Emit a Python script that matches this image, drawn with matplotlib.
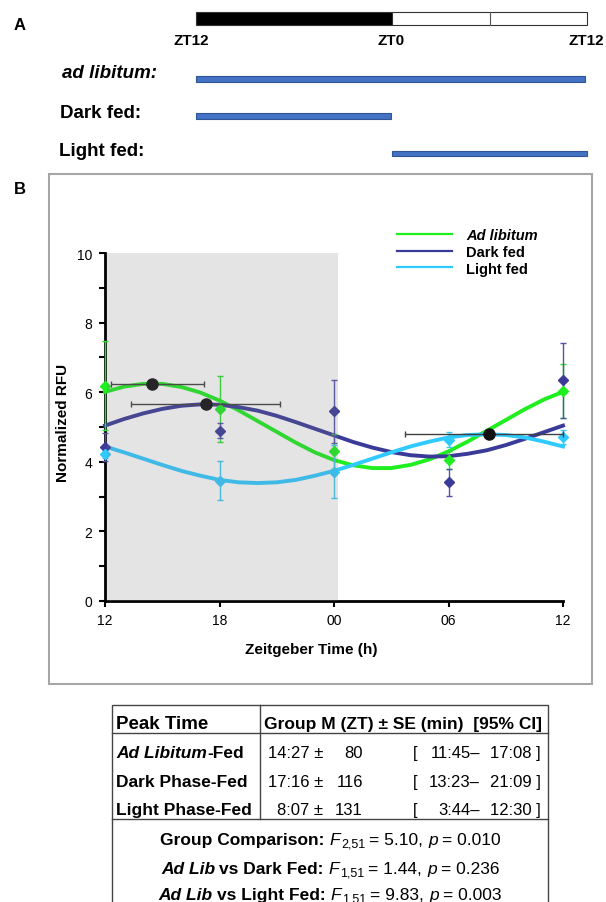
import matplotlib
matplotlib.use('Agg')
import matplotlib.pyplot as plt
from matplotlib.patches import Rectangle
from matplotlib.lines import Line2D

plt.rcParams['font.family'] = ['Liberation Sans', 'DejaVu Sans']

W, H = 606, 903

# ---------------- data ----------------
# sample times, in hours after ZT12
zt_hours = [0, 6, 12, 18, 24]
zt_labels = ['12', '18', '00', '06', '12']

adlib_mean = [6.19, 5.52, 4.30, 4.05, 6.03]
adlib_se = [1.28, 0.95, 0.50, 0.25, 0.78]
dark_mean = [4.43, 4.89, 5.45, 3.41, 6.34]
dark_se = [0.40, 0.22, 0.90, 0.38, 1.08]
light_mean = [4.22, 3.46, 3.72, 4.64, 4.70]
light_se = [0.12, 0.57, 0.75, 0.21, 0.20]

# fitted curves every hour
fit_hours = list(range(25))
adlib_fit = [6.01, 6.16, 6.24, 6.24, 6.15, 5.99, 5.76, 5.48, 5.17, 4.86, 4.55, 4.27, 4.05,
             3.90, 3.82, 3.82, 3.91, 4.07, 4.30, 4.58, 4.89, 5.20, 5.51, 5.79, 6.01]
dark_fit = [5.04, 5.23, 5.39, 5.52, 5.61, 5.65, 5.64, 5.57, 5.47, 5.32, 5.14, 4.95, 4.76,
            4.57, 4.41, 4.28, 4.19, 4.15, 4.16, 4.23, 4.33, 4.48, 4.66, 4.85, 5.04]
light_fit = [4.44, 4.27, 4.09, 3.91, 3.74, 3.60, 3.48, 3.41, 3.39, 3.41, 3.48, 3.60, 3.74,
             3.91, 4.09, 4.27, 4.44, 4.58, 4.70, 4.77, 4.79, 4.77, 4.70, 4.58, 4.44]

# peak times (hours after ZT12) with 95% CI
peak_hours = [2.45, 5.27, 20.12]
peak_values = [6.25, 5.65, 4.79]
peak_ci_low = [0.30, 1.38, 15.73]
peak_ci_high = [5.20, 9.15, 24.0]

group_names = ['Ad libitum', 'Dark fed', 'Light fed']
group_colors = ['#1fee1f', '#3a3a98', '#2fcaff']
error_colors = ['#2be02b', '#5252aa', '#3cc8f5']

# feeding schedule (hours after ZT12)
feed_labels = ['ad libitum:', 'Dark fed:', 'Light fed:']
feed_start = [0, 0, 12]
feed_end = [23.9, 11.95, 24]

table_groups = ['Peak Time', 'Dark Phase-Fed', 'Light Phase-Fed']
table_mean = ['14:27 \u00b1', '17:16 \u00b1', '8:07 \u00b1']
table_se = ['80', '116', '131']
table_lo = ['11:45\u2013', '13:23\u2013', '3:44\u2013']
table_hi = ['17:08 ]', '21:09 ]', '12:30 ]']

fig = plt.figure(figsize=(W / 100, H / 100), dpi=100)
renderer = fig.canvas.get_renderer()


def fx(x):
    return x / W


def fy(y):
    return 1 - y / H


def box(x0, y0, x1, y1, **kw):
    fig.add_artist(Rectangle((fx(x0), fy(y1)), (x1 - x0) / W, (y1 - y0) / H,
                             transform=fig.transFigure, **kw))


def line(x0, y0, x1, y1, **kw):
    fig.add_artist(Line2D([fx(x0), fx(x1)], [fy(y0), fy(y1)], transform=fig.transFigure, **kw))


def rich_line(parts, x, y, ha='left'):
    # parts: (text, size, weight, style, drop_px, gap_px_before)
    made = []
    for s, size, weight, style, drop, gap in parts:
        t = fig.text(0, fy(y + drop), s, fontsize=size, weight=weight, style=style, va='baseline')
        made.append((t, gap, t.get_window_extent(renderer).width))
    total = sum(g + w for _, g, w in made)
    cur = x - total / 2 if ha == 'center' else x
    for t, gap, w in made:
        cur += gap
        t.set_x(fx(cur))
        cur += w


########## panel A ##########
fig.text(fx(20), fy(25), 'A', fontsize=12, weight='bold', ha='center', va='center')
x_a0, x_a1 = 196, 587
box(x_a0, 13, 392, 26, facecolor='black', edgecolor='#333333', lw=0.8)
box(392, 13, x_a1, 26, facecolor='white', edgecolor='#333333', lw=0.8)
line(490, 13, 490, 26, color='#555555', lw=0.8)
for xp, lab in zip([191, 391, 586.5], ['ZT12', 'ZT0', 'ZT12']):
    fig.text(fx(xp), fy(41), lab, fontsize=11, weight='bold', ha='center', va='center')

scale = (x_a1 - x_a0) / 24
bar_y = [80, 117, 154.5]
lab_x = [62, 60, 59]
lab_y = [74, 113, 152]
for i in range(3):
    box(x_a0 + feed_start[i] * scale, bar_y[i] - 2.8, x_a0 + feed_end[i] * scale, bar_y[i] + 2.8,
        facecolor='#4472c4', edgecolor='#2f5597', lw=0.8)
    fig.text(fx(lab_x[i]), fy(lab_y[i]), feed_labels[i], fontsize=13.5, weight='bold',
             style='italic' if i == 0 else 'normal', ha='left', va='center')

########## panel B ##########
fig.text(fx(20), fy(190), 'B', fontsize=12, weight='bold', ha='center', va='center')
box(49, 175, 592, 685, facecolor='none', edgecolor='#a6a6a6', lw=1.5)

ax = fig.add_axes([fx(105), fy(602), 458 / W, 348 / H])
ax.set_xlim(0, 24)
ax.set_ylim(0, 10)
for s in ['top', 'right']:
    ax.spines[s].set_visible(False)
for s in ['left', 'bottom']:
    ax.spines[s].set_linewidth(2)
ax.set_xticks(zt_hours, zt_labels)
ax.set_yticks(range(0, 11, 2))
ax.set_yticks(range(1, 11, 2), minor=True)
ax.tick_params(which='both', direction='out', length=4, width=1.5, labelsize=10, pad=5)

fits = [adlib_fit, dark_fit, light_fit]
means = [adlib_mean, dark_mean, light_mean]
ses = [adlib_se, dark_se, light_se]
for i in range(3):
    ax.plot(fit_hours, fits[i], color=group_colors[i], lw=2.8, zorder=3, clip_on=False,
            solid_joinstyle='round')
for i in range(3):
    eb = ax.errorbar(zt_hours, means[i], yerr=ses[i], fmt='D', ms=5, color=group_colors[i],
                     ecolor=error_colors[i], elinewidth=1, capsize=2, capthick=1, zorder=4)
    for art in eb.get_children():
        art.set_clip_on(False)

eb = ax.errorbar(peak_hours, peak_values,
                 xerr=[[p - lo for p, lo in zip(peak_hours, peak_ci_low)],
                       [hi - p for p, hi in zip(peak_hours, peak_ci_high)]],
                 fmt='o', ms=8, color='#111111', ecolor='#404040', elinewidth=1,
                 capsize=2.5, capthick=1, zorder=6)
for art in eb.get_children():
    art.set_clip_on(False)

# dark phase shading, drawn on top as in the original
ax.add_patch(Rectangle((0.1, 0), 12.1, 10, facecolor=(0.5, 0.47, 0.5), alpha=0.2, lw=0, zorder=10))

handles = [Line2D([], [], color=c, lw=1.6) for c in group_colors]
leg = ax.legend(handles, group_names, loc='upper left', bbox_to_anchor=(0.637, 1.071),
                frameon=False, prop={'size': 10.5, 'weight': 'bold'}, handlelength=3.8,
                handletextpad=0.95, labelspacing=0.18, borderpad=0, borderaxespad=0)
leg.get_texts()[0].set_fontstyle('italic')

fig.text(fx(311), fy(650), 'Zeitgeber Time (h)', fontsize=11, weight='bold', ha='center', va='center')
fig.text(fx(63), fy(423), 'Normalized RFU', fontsize=11, weight='bold', rotation=90,
         ha='center', va='center')

########## table ##########
tl, tr = 112, 548
box(tl, 706, tr, 920, facecolor='none', edgecolor='#444444', lw=1)
line(tl, 734, tr, 734, color='#444444', lw=1)
line(tl, 820, tr, 820, color='#444444', lw=1)
line(260, 706, 260, 820, color='#444444', lw=1)

fs = 12.5
vs = 12
rich_line([('Peak Time', 13.5, 'bold', 'normal', 0, 0)], 116, 729)
rich_line([('Group M (ZT) \u00b1 SE (min)  [95% CI]', fs, 'bold', 'normal', 0, 0)], 264, 729)

rich_line([('Ad Libitum', fs, 'bold', 'italic', 0, 0), ('-Fed', fs, 'bold', 'normal', 0, 1)], 116, 758)
row_y = [758, 787, 815]
for i in range(3):
    if i > 0:
        rich_line([(table_groups[i], fs, 'bold', 'normal', 0, 0)], 116, row_y[i])
    fig.text(fx(323), fy(row_y[i]), table_mean[i], fontsize=vs, ha='right', va='baseline')
    fig.text(fx(363), fy(row_y[i]), table_se[i], fontsize=vs, ha='right', va='baseline')
    fig.text(fx(413), fy(row_y[i]), '[', fontsize=vs, ha='left', va='baseline')
    fig.text(fx(480), fy(row_y[i]), table_lo[i], fontsize=vs, ha='right', va='baseline')
    fig.text(fx(541), fy(row_y[i]), table_hi[i], fontsize=vs, ha='right', va='baseline')

stats = [('Group Comparison:', None, '2,51', '5.10', '0.010'),
         ('vs Dark Fed:', 'Ad Lib', '1,51', '1.44', '0.236'),
         ('vs Light Fed:', 'Ad Lib', '1,51', '9.83', '0.003')]
stat_y = [845, 874, 900]
for (head, lead, df, fval, pval), yy in zip(stats, stat_y):
    parts = []
    if lead:
        parts.append((lead, fs, 'bold', 'italic', 0, 0))
    parts += [(head, fs, 'bold', 'normal', 0, 4 if lead else 0),
              ('F', fs, 'normal', 'italic', 0, 5),
              (df, 9, 'normal', 'normal', 3, 1),
              ('= ' + fval + ',', fs, 'normal', 'normal', 0, 4),
              ('p', fs, 'normal', 'italic', 0, 5),
              ('= ' + pval, fs, 'normal', 'normal', 0, 4)]
    rich_line(parts, 330, yy, ha='center')

fig.savefig('out.png', dpi=100)
